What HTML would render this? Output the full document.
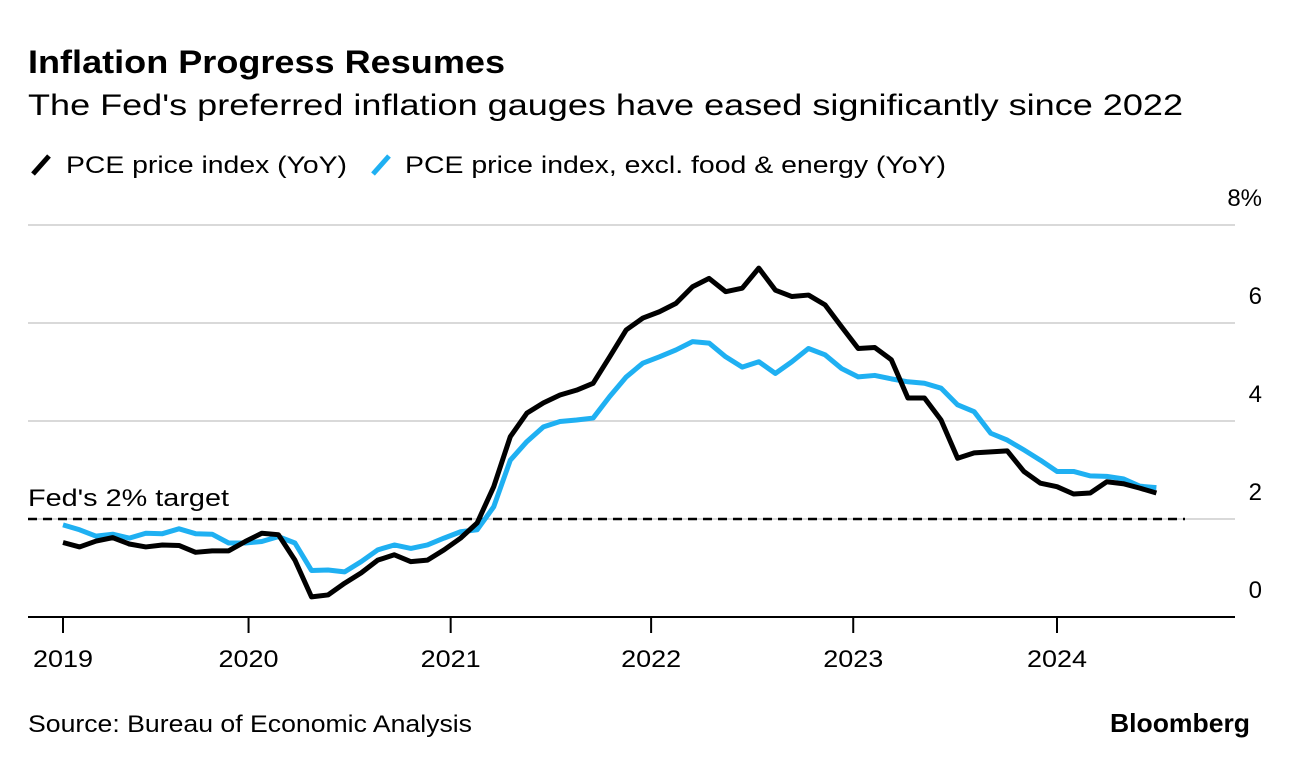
<!DOCTYPE html>
<html><head><meta charset="utf-8"><style>
body{margin:0;background:#fff;font-family:"Liberation Sans",sans-serif;}
svg text{font-family:"Liberation Sans",sans-serif;}
</style></head><body>
<svg id="chart" width="1289" height="766" xmlns="http://www.w3.org/2000/svg">
<text x="28" y="73" font-size="32" font-weight="bold" fill="#000" textLength="477" lengthAdjust="spacingAndGlyphs">Inflation Progress Resumes</text>
<text x="28" y="115" font-size="30" fill="#000" textLength="1155" lengthAdjust="spacingAndGlyphs">The Fed's preferred inflation gauges have eased significantly since 2022</text>
<g><line x1="33" y1="174" x2="49" y2="156" stroke="#000" stroke-width="5"/><text x="66" y="173" font-size="24" textLength="281" lengthAdjust="spacingAndGlyphs">PCE price index (YoY)</text></g>
<g><line x1="373" y1="174" x2="389" y2="156" stroke="#1fb0f2" stroke-width="5"/><text x="405" y="173" font-size="24" textLength="541" lengthAdjust="spacingAndGlyphs">PCE price index, excl. food &amp; energy (YoY)</text></g>
<g id="grid"></g><g id="ylabels"></g><g id="xaxis"></g>
<line x1="28" y1="519" x2="1185" y2="519" stroke="#000" stroke-width="2.5" stroke-dasharray="9,6"/>
<text x="28" y="506" font-size="24" textLength="201" lengthAdjust="spacingAndGlyphs">Fed's 2% target</text>
<g id="series"></g>
<text x="28" y="732" font-size="24" textLength="444" lengthAdjust="spacingAndGlyphs">Source: Bureau of Economic Analysis</text>
<text x="1110" y="732" font-size="26" font-weight="bold" textLength="140" lengthAdjust="spacingAndGlyphs">Bloomberg</text>
</svg>
<script>
const yTicks=[0,2,4,6,8];
const yTickLabels=["0","2","4","6","8%"];
const xTickYears=[2019,2020,2021,2022,2023,2024];
const xTickMonths=[0,11.2,23.4,35.5,47.7,60];
const pce=[1.52,1.43,1.55,1.62,1.49,1.43,1.47,1.46,1.32,1.35,1.35,1.54,1.71,1.68,1.16,0.41,0.45,0.69,0.9,1.16,1.27,1.13,1.16,1.37,1.61,1.92,2.66,3.68,4.16,4.37,4.53,4.63,4.77,5.31,5.86,6.1,6.23,6.4,6.74,6.91,6.64,6.71,7.12,6.67,6.54,6.57,6.37,5.92,5.48,5.5,5.25,4.47,4.47,4.02,3.24,3.35,3.37,3.39,2.97,2.73,2.66,2.51,2.53,2.76,2.72,2.63,2.53];
const corePce=[1.88,1.78,1.65,1.69,1.61,1.71,1.7,1.8,1.7,1.69,1.51,1.51,1.54,1.64,1.51,0.95,0.96,0.92,1.13,1.37,1.47,1.4,1.47,1.61,1.74,1.78,2.25,3.2,3.58,3.88,3.99,4.02,4.06,4.5,4.9,5.18,5.31,5.45,5.62,5.59,5.31,5.1,5.21,4.97,5.21,5.48,5.35,5.07,4.9,4.93,4.86,4.8,4.77,4.67,4.33,4.19,3.75,3.61,3.41,3.2,2.97,2.97,2.88,2.87,2.82,2.67,2.64];
const NS="http://www.w3.org/2000/svg";
function y(v){return 617-v*49;}
function x(m){return 63+m*(994/60);}
function mk(t,a,p){const e=document.createElementNS(NS,t);for(const k in a)e.setAttribute(k,a[k]);p.appendChild(e);return e;}
const grid=document.getElementById('grid'),yl=document.getElementById('ylabels'),xa=document.getElementById('xaxis'),se=document.getElementById('series');
yTicks.forEach((v,i)=>{
 if(v>0){const g=mk('line',{x1:28,x2:1235,y1:y(v),y2:y(v),stroke:'#d9d9d9','stroke-width':2},grid);
 
 }
 const t=mk('text',{x:1262,y:y(v)-19,'font-size':24,'text-anchor':'end'},yl);t.textContent=yTickLabels[i];
 
 
});
const base=mk('line',{x1:28,x2:1235,y1:617,y2:617,stroke:'#000','stroke-width':2},xa);


xTickYears.forEach((yr,i)=>{
 const px=x(xTickMonths[i]);
 const tk=mk('line',{x1:px,x2:px,y1:617,y2:633,stroke:'#000','stroke-width':2},xa);
 
 
 const t=mk('text',{x:px-30,y:667,'font-size':24,textLength:60,lengthAdjust:'spacingAndGlyphs'},xa);t.textContent=yr;
 
 
});
function line(d,c,n){
 const p=mk('polyline',{points:d.map((v,i)=>x(i)+','+y(v)).join(' '),fill:'none',stroke:c,'stroke-width':5,'stroke-linejoin':'round'},se);
 
 
}
line(corePce,'#1fb0f2','core-pce-line');
line(pce,'#000','pce-line');
</script>
</body></html>
